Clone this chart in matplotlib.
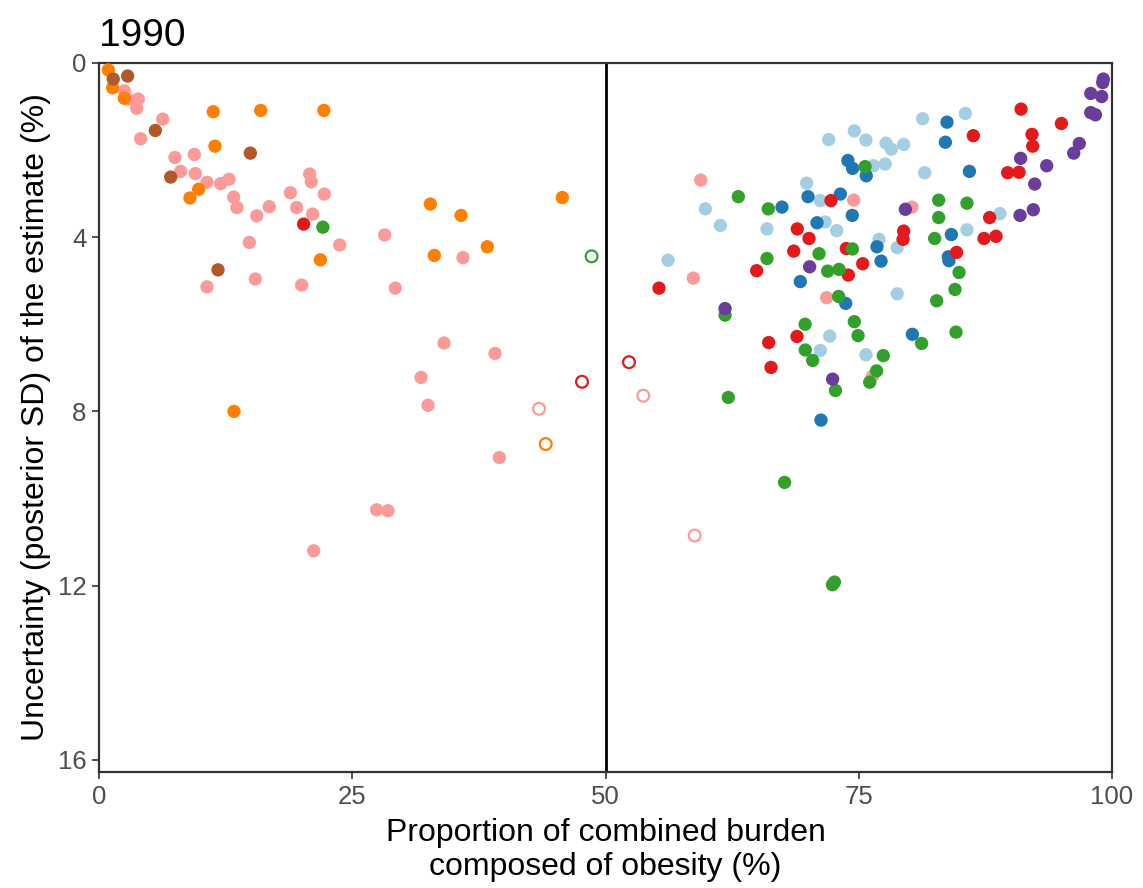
import matplotlib
matplotlib.use("Agg")
import matplotlib.pyplot as plt

plt.rcParams["font.family"] = ["Liberation Sans", "DejaVu Sans"]

# Proportion of combined burden composed of obesity (%) and posterior SD (%), 1990
light_blue_x = [56.17, 59.85, 61.33, 65.94, 69.86, 71.2, 71.67, 72.03, 72.82, 74.56, 75.71,
                76.44, 77.0, 77.6, 77.69, 78.22, 78.8, 78.8, 79.43, 81.3, 81.5, 85.52,
                85.68, 88.94, 71.2, 72.13, 75.71]
light_blue_y = [4.53, 3.35, 3.73, 3.81, 2.76, 3.16, 3.65, 1.76, 3.85, 1.56, 1.77,
                2.36, 4.05, 2.32, 1.84, 1.98, 4.24, 5.30, 1.87, 1.28, 2.52, 1.16,
                3.83, 3.46, 6.60, 6.27, 6.70]

blue_x = [67.42, 69.23, 69.99, 70.88, 71.27, 73.18, 73.71, 73.93, 74.36, 74.39, 75.74,
          76.8, 77.2, 80.29, 83.55, 83.71, 83.84, 83.9, 84.14, 85.92]
blue_y = [3.31, 5.02, 3.07, 3.67, 8.20, 3.01, 5.52, 2.24, 3.50, 2.42, 2.59,
          4.22, 4.55, 6.23, 1.82, 1.36, 4.45, 4.54, 3.94, 2.49]

green_x = [22.1, 61.8, 62.12, 63.11, 65.94, 66.07, 67.68, 69.7, 69.72, 70.45, 71.08,
           71.93, 72.4, 72.6, 72.7, 73.01, 73.05, 74.37, 74.56, 74.93, 75.62, 76.08,
           76.76, 77.42, 81.2, 82.49, 82.69, 82.89, 82.89, 84.5, 84.6, 84.9, 85.68]
green_y = [3.77, 5.79, 7.68, 3.07, 4.49, 3.35, 9.63, 6.0, 6.59, 6.83, 4.38,
           4.78, 11.98, 11.92, 7.52, 5.36, 4.74, 4.27, 5.94, 6.26, 2.38, 7.33,
           7.07, 6.72, 6.44, 4.03, 5.46, 3.15, 3.55, 5.20, 6.18, 4.81, 3.22]

pink_x = [2.5, 2.83, 3.88, 3.72, 6.29, 4.11, 7.5, 9.41, 8.06, 9.51, 10.66, 12.01, 12.83,
          13.3, 13.62, 15.57, 16.81, 18.89, 19.51, 20.8, 20.96, 22.24, 21.09, 23.76,
          14.84, 15.43, 10.66, 20.0, 21.2, 28.2, 29.25, 35.93, 34.06, 39.09, 31.79,
          32.48, 39.52, 27.41, 28.53, 59.4, 58.67, 71.83, 74.5, 80.25, 76.37]
pink_y = [0.64, 0.83, 0.83, 1.04, 1.29, 1.74, 2.17, 2.10, 2.49, 2.54, 2.74, 2.77, 2.67,
          3.08, 3.32, 3.51, 3.30, 2.98, 3.32, 2.55, 2.73, 3.01, 3.47, 4.18,
          4.12, 4.96, 5.14, 5.10, 11.2, 3.95, 5.17, 4.47, 6.43, 6.67, 7.22,
          7.86, 9.06, 10.26, 10.28, 2.69, 4.94, 5.39, 3.15, 3.31, 7.19]

red_x = [20.2, 55.28, 64.92, 66.11, 66.34, 68.58, 68.9, 68.93, 70.09, 72.26, 73.77,
         73.97, 75.39, 79.37, 79.43, 84.66, 86.31, 87.36, 87.92, 88.55, 89.7, 90.82,
         91.02, 92.1, 92.17, 95.0]
red_y = [3.70, 5.17, 4.77, 6.42, 6.99, 4.32, 6.28, 3.81, 4.03, 3.16, 4.26,
         4.87, 4.61, 4.05, 3.86, 4.35, 1.67, 4.03, 3.55, 3.98, 2.52, 2.51,
         1.06, 1.64, 1.91, 1.39]

orange_x = [0.92, 1.35, 2.5, 11.28, 15.96, 22.2, 11.45, 9.84, 8.98, 21.85, 13.33,
            32.71, 35.74, 45.74, 33.1, 38.33]
orange_y = [0.16, 0.57, 0.81, 1.12, 1.09, 1.09, 1.91, 2.90, 3.10, 4.52, 8.0,
            3.24, 3.50, 3.09, 4.42, 4.22]

brown_x = [1.41, 2.83, 5.56, 14.94, 7.08, 11.75]
brown_y = [0.37, 0.30, 1.55, 2.07, 2.62, 4.75]

purple_x = [61.8, 70.15, 72.42, 79.6, 90.92, 90.98, 92.23, 92.37, 93.55, 96.22, 96.77,
            97.9, 97.9, 98.36, 98.98, 99.08, 99.14]
purple_y = [5.64, 4.68, 7.26, 3.36, 3.50, 2.19, 3.37, 2.78, 2.36, 2.07, 1.85,
            0.70, 1.14, 1.19, 0.77, 0.45, 0.37]

# Open circles: estimates flagged separately
open_x = [48.63, 47.68, 43.44, 44.1, 52.32, 53.73, 58.8]
open_y = [4.44, 7.32, 7.94, 8.75, 6.87, 7.64, 10.85]
open_group = ["green", "red", "pink", "orange", "red", "pink", "pink"]

palette = {
    "light_blue": "#A6CEE3",
    "blue": "#1F78B4",
    "green": "#33A02C",
    "pink": "#FB9A99",
    "red": "#E31A1C",
    "orange": "#FF7F00",
    "brown": "#B15928",
    "purple": "#6A3D9A",
}

x_ticks = [0, 25, 50, 75, 100]
y_ticks = [0, 4, 8, 12, 16]

fig = plt.figure(figsize=(11.43, 8.88), dpi=100)
ax = fig.add_axes([0.0866, 0.1306, 0.8863, 0.7985])

groups = [
    ("pink", pink_x, pink_y),
    ("orange", orange_x, orange_y),
    ("brown", brown_x, brown_y),
    ("light_blue", light_blue_x, light_blue_y),
    ("blue", blue_x, blue_y),
    ("red", red_x, red_y),
    ("green", green_x, green_y),
    ("purple", purple_x, purple_y),
]
for name, xs, ys in groups:
    ax.scatter(xs, ys, s=92, color=palette[name], edgecolors="none", zorder=3)

ax.scatter(open_x, open_y, s=72, facecolors="white",
           edgecolors=[palette[g] for g in open_group], linewidths=1.6, zorder=3)

ax.axvline(50, color="black", linewidth=2.0, zorder=2)

ax.set_xlim(0, 100)
ax.set_ylim(16.28, 0)
ax.set_xticks(x_ticks)
ax.set_yticks(y_ticks)
ax.tick_params(axis="both", colors="#333333", labelcolor="#4D4D4D",
               labelsize=18.5, length=5, width=1.2, direction="out", pad=4)
for side in ["left", "bottom", "top", "right"]:
    ax.spines[side].set_color("#333333")
    ax.spines[side].set_linewidth(1.6)

ax.set_xlabel("Proportion of combined burden\ncomposed of obesity (%)", fontsize=23,
              color="black", labelpad=7, linespacing=1.17)
ax.set_ylabel("Uncertainty (posterior SD) of the estimate (%)", fontsize=23,
              color="black", labelpad=5)
ax.set_title("1990", loc="left", fontsize=28, pad=12)

fig.savefig("out.png", dpi=100)
